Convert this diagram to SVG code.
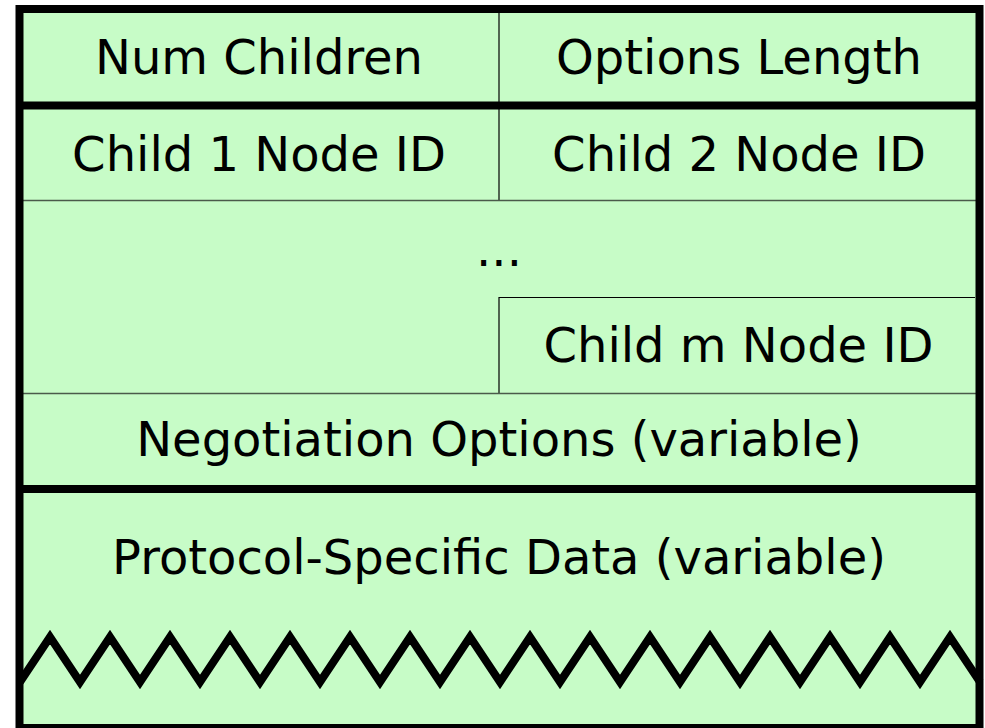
<svg xmlns="http://www.w3.org/2000/svg" width="985" height="728" viewBox="0 0 985 728">
  <style>
    .lbl { font-family: "DejaVu Sans", "Liberation Sans", sans-serif; font-size: 48px; fill: #000; text-anchor: middle; }
    .thick { stroke: #000; stroke-width: 8; fill: none; }
    .thin { stroke: #000; stroke-width: 1.2; fill: none; }
    .sep { stroke: #4a5a4a; stroke-width: 1.6; fill: none; }
  </style>
  <rect x="0" y="0" width="985" height="728" fill="#fff"/>
  <!-- packet body -->
  <rect id="frame-fill" x="19.5" y="9" width="960" height="725" fill="#c7fcc7"/>

  <g id="row-header">
    <line class="thin" x1="499" y1="13" x2="499" y2="102"/>
    <text class="lbl" x="259" y="74">Num Children</text>
    <text class="lbl" x="739" y="74">Options Length</text>
  </g>

  <g id="row-children">
    <line class="thin" x1="499" y1="109" x2="499" y2="200"/>
    <text class="lbl" x="259" y="171">Child 1 Node ID</text>
    <text class="lbl" x="739" y="171">Child 2 Node ID</text>
  </g>

  <g id="row-more">
    <text class="lbl" x="499" y="266">...</text>
  </g>

  <g id="child-m">
    <path class="thin" d="M499,393 V297.5 H975"/>
    <text class="lbl" x="738.5" y="362">Child m Node ID</text>
  </g>

  <g id="negotiation-options">
    <text class="lbl" x="499" y="456">Negotiation Options (variable)</text>
  </g>

  <g id="protocol-data">
    <text class="lbl" x="499" y="574">Protocol-Specific Data (variable)</text>
  </g>

  <g id="connectors">
    <line class="sep" x1="20" y1="200.5" x2="976" y2="200.5"/>
    <line class="sep" x1="20" y1="393.5" x2="976" y2="393.5"/>
    <line class="thick" x1="19" y1="105.5" x2="980" y2="105.5"/>
    <line class="thick" x1="19" y1="489" x2="980" y2="489"/>
    <!-- torn edge -->
    <polyline class="thick" stroke-width="9" stroke-linejoin="miter" points="20,682 50,637 80,682 110,637 140,682 170,637 200,682 230,637 260,682 290,637 320,682 350,637 380,682 410,637 440,682 470,637 500,682 530,637 560,682 590,637 620,682 650,637 680,682 710,637 740,682 770,637 800,682 830,637 860,682 890,637 920,682 950,637 980,682"/>
    <!-- outer border -->
    <rect class="thick" x="19.5" y="9" width="960" height="719"/>
  </g>
</svg>
